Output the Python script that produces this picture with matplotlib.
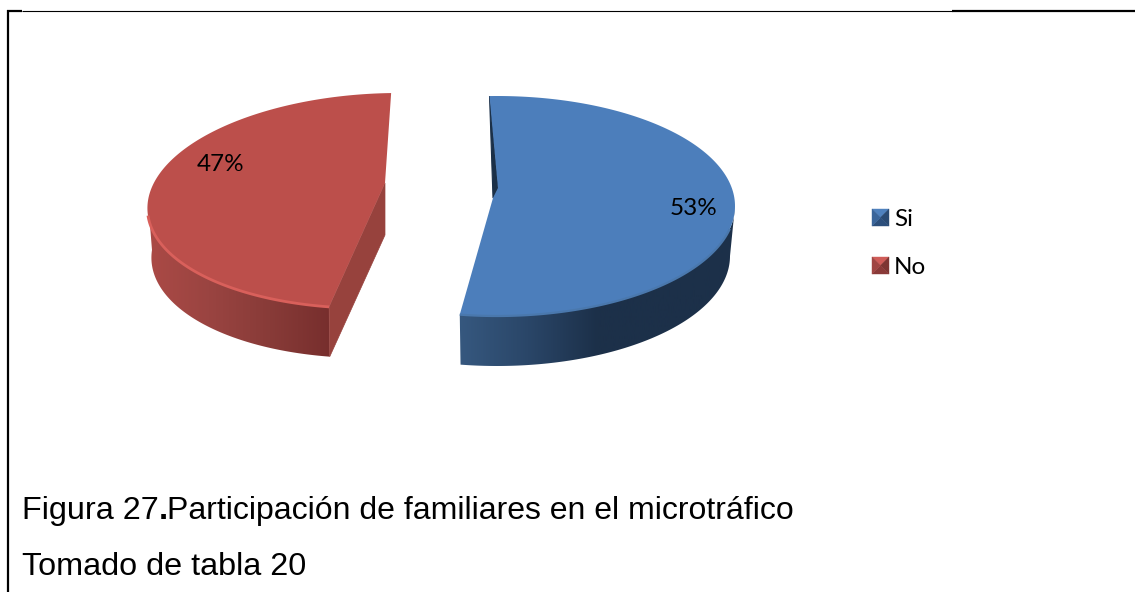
import numpy as np
import matplotlib
matplotlib.use('Agg')
import matplotlib.pyplot as plt
from matplotlib.colors import LinearSegmentedColormap
from matplotlib.patches import Polygon

# values of the chart
categories = ['Si', 'No']
shares = [53, 47]
caption_start = 'Figura 27'
caption_rest = 'Participación de familiares en el microtráfico'
caption_2 = 'Tomado de tabla 20'

START_ANGLE = 91.8  # where Si begins, going clockwise

W, H = 1135, 592
fig = plt.figure(figsize=(W / 100, H / 100), dpi=100)
ax = fig.add_axes([0, 0, 1, 1])
ax.axis('off')
ax.set_xlim(0, W)
ax.set_ylim(H, 0)


def ellipse(t, cx, cy, rx, ry, shear=0.0):
    t = np.radians(t)
    return np.column_stack([cx + rx * np.cos(t) + shear * np.sin(t), cy - ry * np.sin(t)])


def side_gradient(outline, x0, x1, colours):
    cmap = LinearSegmentedColormap.from_list('side', colours)
    img = ax.imshow(np.linspace(0, 1, 256)[None, :], cmap=cmap, extent=(x0, x1, H, 0),
                    aspect='auto', zorder=2)
    patch = Polygon(outline, closed=True, transform=ax.transData, fc='none', ec='none')
    ax.add_patch(patch)
    img.set_clip_path(patch)
    ax.set_xlim(0, W)
    ax.set_ylim(H, 0)


si_span = 360 * shares[0] / sum(shares)
si_end = START_ANGLE - si_span
no_end = si_end - 360 * shares[1] / sum(shares)

# --- Si slice ---
si_t = np.linspace(START_ANGLE, si_end, 200)
si_top = ellipse(si_t, 497, 206, 238, 110)
si_front = np.linspace(0, si_end, 120)
si_rim = ellipse(si_front, 497, 206, 238, 110)
si_low = ellipse(si_front, 497, 256, 233, 110)
side_gradient(np.vstack([si_rim, si_low[::-1]]), 459, 736,
              ['#36587f', '#2a4668', '#1c3049', '#1c3049', '#1c3049'])
ax.add_patch(Polygon([si_top[0], (498, 188), (493, 198)], fc='#1b3048', ec='#1b3048', lw=0.8, zorder=3))
ax.add_patch(Polygon(np.vstack([si_top, [(493, 198), (498, 188)]]), fc='#4c7ebb', ec='none', zorder=4))
rim = ellipse(np.linspace(-12, si_end, 100), 497, 206, 238, 110)
ax.plot(rim[:, 0], rim[:, 1], color='#4a78ad', lw=1.6, zorder=5, solid_capstyle='butt')

# --- No slice ---
no_t = np.linspace(si_end + 360, no_end + 360, 200)
no_top = ellipse(no_t, 382, 200.6, 234, 107.6, 16.5)
no_side_t = np.linspace(si_end, -180, 120)
no_rim = ellipse(no_side_t, 382, 200.6, 234, 107.6, 16.5)
no_base = ellipse(no_side_t, 382, 250, 230, 108, 16.5)
side_gradient(np.vstack([no_rim, no_base[::-1]]), 148, 331,
              ['#ab4a46', '#9a4441', '#883b38', '#772e2d'])
ax.add_patch(Polygon([(385, 183), (385, 235), no_base[0], no_rim[0]], fc='#97423d', ec='#97423d',
                     lw=0.5, zorder=3))
ax.add_patch(Polygon(np.vstack([no_top, [(385, 183)]]), fc='#bc4f4b', ec='none', zorder=4))
rim = ellipse(np.linspace(si_end, -172, 100), 382, 200.6, 234, 107.6, 16.5)
ax.plot(rim[:, 0], rim[:, 1], color='#d9605b', lw=2, zorder=5, solid_capstyle='butt')

# slice labels
ax.text(694, 208.5, f'{shares[0]}%', family='Lato', fontsize=17.5, ha='center', va='center', zorder=6)
ax.text(221, 164.5, f'{shares[1]}%', family='Lato', fontsize=17.5, ha='center', va='center', zorder=6)

# legend with little bevelled squares
key_shades = [('#4f81bd', '#3a659a', '#2a4a72', '#2c4f7c'),
              ('#cf5c58', '#a04542', '#7d3532', '#8a3a38')]
for name, y, shade in zip(categories, [217.5, 265.5], key_shades):
    x0, x1, y0, y1 = 872, 889, y - 8.5, y + 8.5
    mid = ((x0 + x1) / 2, y)
    corners = [(x0, y0), (x1, y0), (x1, y1), (x0, y1)]
    for i, c in zip([0, 1, 2, 3], [shade[0], shade[2], shade[3], shade[1]]):
        ax.add_patch(Polygon([corners[i], corners[(i + 1) % 4], mid], fc=c, ec=c, lw=0.3, zorder=3))
    ax.text(894, y + 1.5, name, family='Lato', fontsize=17.5, va='center', zorder=6)

# border of the page crop
ax.plot([8, 8], [10, H], color='black', lw=1.6, solid_capstyle='butt')
ax.plot([7, 22], [11, 11], color='black', lw=1.6, solid_capstyle='butt')
ax.plot([22, 952], [10.5, 10.5], color='black', lw=0.8, solid_capstyle='butt')
ax.plot([952, W], [11, 11], color='black', lw=1.6, solid_capstyle='butt')

# caption, the point after the figure number is bold
fig.canvas.draw()
rend = fig.canvas.get_renderer()
t1 = ax.text(22, 519, caption_start, family='Liberation Sans', fontsize=23.3, zorder=6)
x = t1.get_window_extent(rend).x1
t2 = ax.text(x, 519, '.', family='Liberation Sans', fontsize=23.3, weight='bold', zorder=6)
x = t2.get_window_extent(rend).x1 - 1
ax.text(x, 519, caption_rest, family='Liberation Sans', fontsize=23.05, zorder=6)
ax.text(22, 575, caption_2, family='Liberation Sans', fontsize=23.3, zorder=6)

fig.savefig('out.png', dpi=100)
